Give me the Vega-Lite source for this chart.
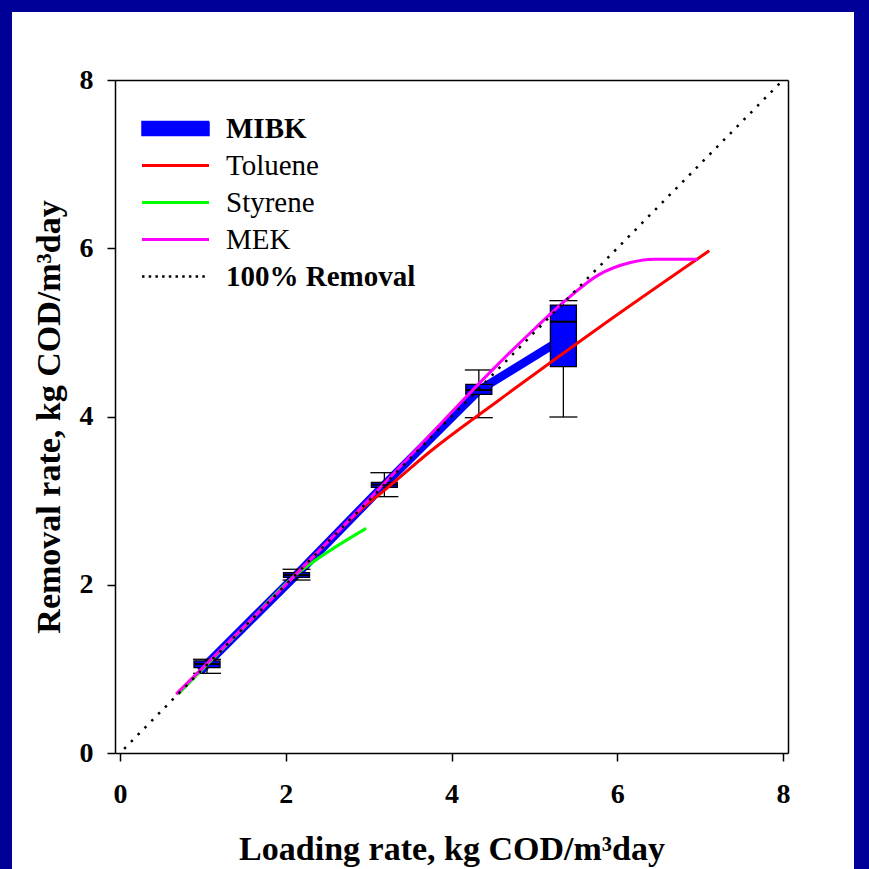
{
  "$schema": "https://vega.github.io/schema/vega-lite/v6.json",
  "autosize": {"type": "none"},
  "width": 842,
  "height": 857,
  "padding": {"left": 12, "top": 12, "right": 15, "bottom": 0},
  "background": "#000099",
  "view": {"fill": "white", "stroke": null},
  "config": {"font": "Liberation Serif"},
  "datasets": {
    "mibk": [
      {"series": "MIBK", "x": 0.97, "y": 0.97},
      {"series": "MIBK", "x": 1.05, "y": 1.06},
      {"series": "MIBK", "x": 2.13, "y": 2.12},
      {"series": "MIBK", "x": 3.19, "y": 3.19},
      {"series": "MIBK", "x": 4.33, "y": 4.31},
      {"series": "MIBK", "x": 5.35, "y": 4.93}
    ],
    "boxes": [
      {"x": 1.05, "lo": 0.947, "q1": 1.014, "med": 1.058, "q3": 1.094, "hi": 1.114},
      {"x": 2.13, "lo": 2.056, "q1": 2.088, "med": 2.116, "q3": 2.143, "hi": 2.184},
      {"x": 3.19, "lo": 3.047, "q1": 3.158, "med": 3.19, "q3": 3.218, "hi": 3.332},
      {"x": 4.33, "lo": 3.986, "q1": 4.264, "med": 4.315, "q3": 4.383, "hi": 4.553},
      {"x": 5.35, "lo": 3.994, "q1": 4.592, "med": 5.127, "q3": 5.325, "hi": 5.377}
    ],
    "curves": [
      {"series": "Toluene", "x": 0.68, "y": 0.7},
      {"series": "Toluene", "x": 1.5, "y": 1.5},
      {"series": "Toluene", "x": 2.6, "y": 2.6},
      {"series": "Toluene", "x": 2.87, "y": 2.86},
      {"series": "Toluene", "x": 3.2, "y": 3.13},
      {"series": "Toluene", "x": 3.75, "y": 3.59},
      {"series": "Toluene", "x": 4.58, "y": 4.2},
      {"series": "Toluene", "x": 5.77, "y": 5.05},
      {"series": "Toluene", "x": 7.11, "y": 5.97},
      {"series": "Styrene", "x": 0.7, "y": 0.7},
      {"series": "Styrene", "x": 1.5, "y": 1.5},
      {"series": "Styrene", "x": 2.1, "y": 2.1},
      {"series": "Styrene", "x": 2.3, "y": 2.25},
      {"series": "Styrene", "x": 2.97, "y": 2.67},
      {"series": "MEK", "x": 0.68, "y": 0.7},
      {"series": "MEK", "x": 2.0, "y": 2.0},
      {"series": "MEK", "x": 3.0, "y": 3.01},
      {"series": "MEK", "x": 3.5, "y": 3.53},
      {"series": "MEK", "x": 4.0, "y": 4.05},
      {"series": "MEK", "x": 4.5, "y": 4.56},
      {"series": "MEK", "x": 5.0, "y": 5.04},
      {"series": "MEK", "x": 5.4, "y": 5.4},
      {"series": "MEK", "x": 5.77, "y": 5.68},
      {"series": "MEK", "x": 6.16, "y": 5.83},
      {"series": "MEK", "x": 6.44, "y": 5.87},
      {"series": "MEK", "x": 6.97, "y": 5.87}
    ],
    "ideal": [
      {"series": "100% Removal", "x": 0.05, "y": 0.05},
      {"series": "100% Removal", "x": 8, "y": 8}
    ]
  },
  "resolve": {"axis": {"x": "independent", "y": "independent"}},
  "layer": [
    {
      "data": {"name": "mibk"},
      "mark": {"type": "line", "strokeWidth": 8.5, "strokeCap": "butt"},
      "encoding": {
        "x": {"field": "x", "type": "quantitative",
          "scale": {"domain": [0, 8], "range": [103, 776], "nice": false, "zero": false},
          "axis": {"orient": "bottom", "offset": -116, "values": [0, 2, 4, 6, 8], "grid": false,
            "tickSize": 8, "tickWidth": 1.5, "tickColor": "black", "domainColor": "black", "domainWidth": 1.5,
            "labelPadding": 19, "labelFont": "Liberation Serif", "labelFontSize": 28, "labelFontWeight": "bold", "labelColor": "black", "labelFlush": false,
            "title": "Loading rate, kg COD/m³day", "titleFont": "Liberation Serif", "titleFontSize": 34, "titleFontWeight": "bold", "titleColor": "black",
            "titleBaseline": "alphabetic", "titleY": 106}},
        "y": {"field": "y", "type": "quantitative",
          "scale": {"domain": [0, 8], "range": [741, 68], "nice": false, "zero": false},
          "axis": {"orient": "left", "offset": -103, "values": [0, 2, 4, 6, 8], "grid": false,
            "tickSize": 8, "tickWidth": 1.5, "tickColor": "black", "domainColor": "black", "domainWidth": 1.5,
            "labelPadding": 14, "labelFont": "Liberation Serif", "labelFontSize": 28, "labelFontWeight": "bold", "labelColor": "black", "labelFlush": false,
            "title": "Removal rate, kg COD/m³day", "titleFont": "Liberation Serif", "titleFontSize": 34, "titleFontWeight": "bold", "titleColor": "black",
            "titleBaseline": "alphabetic", "titleX": -56, "titleAngle": 270}},
        "color": {"field": "series", "type": "nominal",
          "scale": {"domain": ["MIBK", "Toluene", "Styrene", "MEK", "100% Removal"],
            "range": ["#0000ff", "#ff0000", "#00ff00", "#ff00ff", "#000000"]},
          "legend": {"orient": "none", "legendX": 149, "legendY": 102, "title": null, "padding": 0,
            "symbolType": "stroke", "symbolSize": 4489, "symbolStrokeWidth": 3, "symbolOpacity": 1,
            "labelFont": "Liberation Serif", "labelFontSize": 29, "labelColor": "black", "labelOffset": 36, "labelLimit": 400, "rowPadding": 7,
            "encode": {
              "symbols": {"update": {
                "shape": {"signal": "datum.value === 'MIBK' ? 'M-1,-0.21H1V0.21H-1Z' : 'stroke'"},
                "fill": {"signal": "datum.value === 'MIBK' ? '#0000ff' : 'transparent'"},
                "stroke": {"signal": "datum.value === 'MIBK' ? '#000000' : datum.value === 'Toluene' ? '#ff0000' : datum.value === 'Styrene' ? '#00ff00' : datum.value === 'MEK' ? '#ff00ff' : '#000000'"},
                "strokeWidth": {"signal": "datum.value === 'MIBK' ? 1.5 : datum.value === '100% Removal' ? 2.5 : 3"},
                "strokeDash": {"signal": "datum.value === '100% Removal' ? [2.5, 4.2] : [1, 0]"}
              }},
              "labels": {"update": {
                "fontWeight": {"signal": "datum.value === 'MIBK' || datum.value === '100% Removal' ? 'bold' : 'normal'"}
              }}
            }}}
      }
    },
    {
      "data": {"name": "boxes"},
      "mark": {"type": "rule", "color": "black", "strokeWidth": 1.3},
      "encoding": {
        "x": {"field": "x", "type": "quantitative", "axis": null},
        "y": {"field": "lo", "type": "quantitative", "axis": null},
        "y2": {"field": "hi"}
      }
    },
    {
      "data": {"name": "boxes"},
      "mark": {"type": "bar", "orient": "vertical", "size": 26, "fill": "#0000ff", "stroke": "black", "strokeWidth": 1.3, "opacity": 1},
      "encoding": {
        "x": {"field": "x", "type": "quantitative", "axis": null},
        "y": {"field": "q1", "type": "quantitative", "axis": null},
        "y2": {"field": "q3"}
      }
    },
    {
      "data": {"name": "boxes"},
      "mark": {"type": "tick", "orient": "horizontal", "size": 26, "thickness": 2, "color": "black", "opacity": 1},
      "encoding": {
        "x": {"field": "x", "type": "quantitative", "axis": null},
        "y": {"field": "med", "type": "quantitative", "axis": null}
      }
    },
    {
      "data": {"name": "boxes"},
      "mark": {"type": "tick", "orient": "horizontal", "size": 28, "thickness": 1.3, "color": "black", "opacity": 1},
      "encoding": {
        "x": {"field": "x", "type": "quantitative", "axis": null},
        "y": {"field": "lo", "type": "quantitative", "axis": null}
      }
    },
    {
      "data": {"name": "boxes"},
      "mark": {"type": "tick", "orient": "horizontal", "size": 28, "thickness": 1.3, "color": "black", "opacity": 1},
      "encoding": {
        "x": {"field": "x", "type": "quantitative", "axis": null},
        "y": {"field": "hi", "type": "quantitative", "axis": null}
      }
    },
    {
      "data": {"name": "curves"},
      "mark": {"type": "line", "strokeWidth": 3, "interpolate": "monotone"},
      "encoding": {
        "x": {"field": "x", "type": "quantitative", "axis": null},
        "y": {"field": "y", "type": "quantitative", "axis": null},
        "color": {"field": "series", "type": "nominal", "legend": null}
      }
    },
    {
      "data": {"name": "ideal"},
      "mark": {"type": "line", "strokeWidth": 2.5, "strokeDash": [2.5, 7.2]},
      "encoding": {
        "x": {"field": "x", "type": "quantitative",
          "axis": {"orient": "top", "offset": -68, "ticks": false, "labels": false, "title": null, "grid": false,
            "domainColor": "black", "domainWidth": 1.5}},
        "y": {"field": "y", "type": "quantitative",
          "axis": {"orient": "right", "offset": -66, "ticks": false, "labels": false, "title": null, "grid": false,
            "domainColor": "black", "domainWidth": 1.5}},
        "color": {"field": "series", "type": "nominal", "legend": null}
      }
    }
  ]
}
